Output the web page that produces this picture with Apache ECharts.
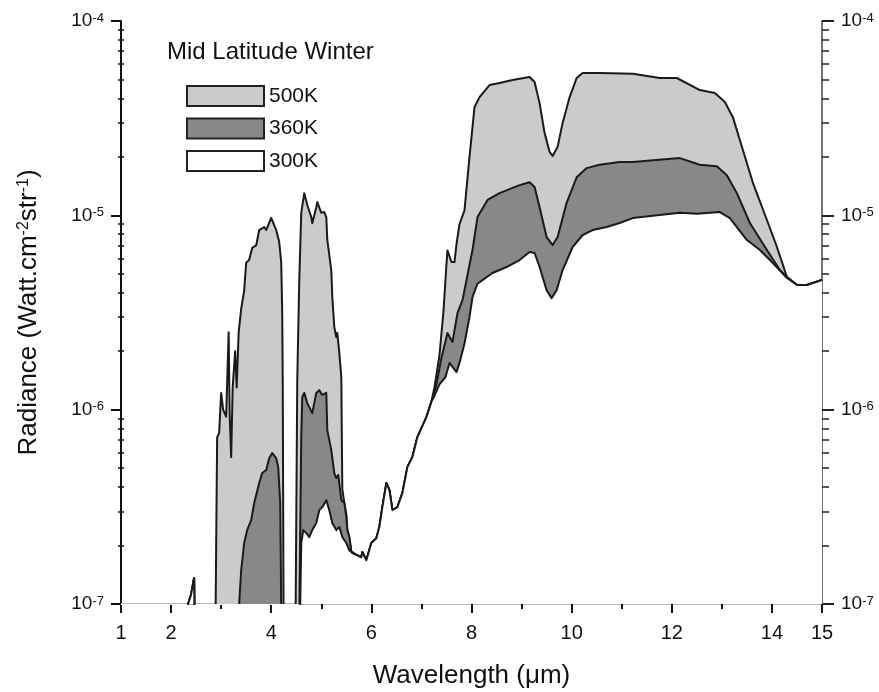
<!DOCTYPE html>
<html><head><meta charset="utf-8">
<script src="https://cdn.jsdelivr.net/npm/echarts@6/dist/echarts.min.js"></script>
<style>html,body{margin:0;padding:0;background:#fff}#c{width:879px;height:692px}</style>
</head><body><div id="c"></div>
<script>
// Wavelength (um) and radiance (W cm^-2 sr^-1); 5e-8 = below the plotted range
const wl500 = [1.0,2.30,2.34,2.40,2.46,2.48,2.88,2.92,2.96,3.00,3.04,3.10,3.15,3.17,3.20,3.23,3.28,3.31,3.35,3.40,3.46,3.50,3.56,3.62,3.70,3.76,3.86,3.90,4.00,4.10,4.16,4.20,4.22,4.23,4.25,
  4.48,4.52,4.56,4.60,4.66,4.72,4.80,4.82,4.90,4.92,5.00,5.06,5.10,5.12,5.20,5.22,5.26,5.30,5.32,5.36,5.40,5.42,5.46,5.50,5.52,5.56,5.60,
  5.62,5.70,5.80,5.82,5.90,6.00,6.10,6.16,6.22,6.30,6.36,6.42,6.52,6.62,6.72,6.82,6.92,7.10,7.20,
  7.26,7.36,7.44,7.50,7.52,7.60,7.66,7.70,7.76,7.86,7.96,8.06,8.16,8.36,8.56,8.82,9.16,9.26,9.36,9.46,9.56,9.62,9.72,9.82,9.96,10.10,10.22,10.56,11.22,11.76,12.10,12.56,12.86,13.06,13.22,13.42,13.62,13.90,14.10,14.30,14.50,14.70,15.0];
const rad500 = [5e-8,5e-8,1.0e-7,1.12e-7,1.36e-7,5e-8,5e-8,7.2e-7,7.6e-7,1.22e-6,1.0e-6,9.2e-7,2.5e-6,9.5e-7,5.7e-7,1.3e-6,2.0e-6,1.3e-6,2.5e-6,3.3e-6,4.1e-6,5.7e-6,5.9e-6,6.8e-6,7.0e-6,8.4e-6,8.7e-6,8.4e-6,9.7e-6,8.4e-6,7.3e-6,5.7e-6,3.1e-6,1.4e-6,5e-8,
  5e-8,1.4e-6,4.6e-6,1.03e-5,1.30e-5,1.13e-5,9.8e-6,9.1e-6,1.10e-5,1.17e-5,1.03e-5,1.04e-5,9.8e-6,7.5e-6,5.2e-6,3.8e-6,2.66e-6,2.36e-6,2.48e-6,1.96e-6,1.47e-6,3.9e-7,3.3e-7,2.9e-7,2.4e-7,2.2e-7,1.86e-7,
  1.83e-7,1.79e-7,1.74e-7,1.85e-7,1.68e-7,2.06e-7,2.18e-7,2.49e-7,3.15e-7,4.19e-7,3.86e-7,3.04e-7,3.15e-7,3.72e-7,5.06e-7,5.70e-7,7.23e-7,9.16e-7,1.10e-6,
  1.3e-6,1.9e-6,3.2e-6,5.6e-6,6.6e-6,5.75e-6,5.75e-6,7.1e-6,9.0e-6,1.06e-5,2.0e-5,3.6e-5,4.06e-5,4.68e-5,4.80e-5,4.97e-5,5.15e-5,4.85e-5,3.78e-5,2.65e-5,2.12e-5,2.02e-5,2.25e-5,2.99e-5,4.06e-5,5.09e-5,5.40e-5,5.40e-5,5.35e-5,5.09e-5,5.09e-5,4.41e-5,4.26e-5,3.83e-5,3.20e-5,2.17e-5,1.47e-5,9.46e-6,6.87e-6,4.81e-6,4.38e-6,4.38e-6,4.65e-6];

const wl360 = [1.0,2.30,2.34,2.40,2.46,2.48,3.34,3.36,3.40,3.46,3.52,3.60,3.66,3.76,3.82,3.90,3.96,4.02,4.10,4.14,4.18,4.21,
  4.55,4.60,4.62,4.66,4.72,4.82,4.90,4.96,5.02,5.10,5.12,5.20,5.26,5.30,5.34,5.40,5.46,5.50,5.52,5.56,5.60,
  5.62,5.70,5.80,5.82,5.90,6.00,6.10,6.16,6.22,6.30,6.36,6.42,6.52,6.62,6.72,6.82,6.92,7.10,7.20,
  7.30,7.40,7.52,7.62,7.72,7.82,8.02,8.12,8.32,8.56,8.96,9.16,9.26,9.36,9.50,9.62,9.72,9.90,10.10,10.30,10.56,10.96,11.22,12.16,12.56,12.90,13.10,13.30,13.56,13.90,14.16,14.30,14.50,14.70,15.0];
const rad360 = [5e-8,5e-8,1.0e-7,1.12e-7,1.36e-7,5e-8,5e-8,1.0e-7,1.49e-7,2.06e-7,2.40e-7,2.70e-7,3.31e-7,4.19e-7,4.72e-7,4.89e-7,5.63e-7,5.98e-7,5.63e-7,5.06e-7,3.31e-7,5e-8,
  5e-8,7.2e-7,1.16e-6,1.22e-6,1.08e-6,9.6e-7,1.22e-6,1.26e-6,1.19e-6,1.22e-6,7.85e-7,6.19e-7,4.72e-7,4.45e-7,4.61e-7,3.42e-7,3.31e-7,2.80e-7,2.40e-7,2.21e-7,1.86e-7,
  1.83e-7,1.79e-7,1.74e-7,1.85e-7,1.68e-7,2.06e-7,2.18e-7,2.49e-7,3.15e-7,4.19e-7,3.86e-7,3.04e-7,3.15e-7,3.72e-7,5.06e-7,5.70e-7,7.23e-7,9.16e-7,1.10e-6,
  1.35e-6,1.85e-6,2.48e-6,2.23e-6,3.14e-6,3.66e-6,6.63e-6,9.80e-6,1.20e-5,1.30e-5,1.43e-5,1.48e-5,1.40e-5,1.10e-5,7.73e-6,7.03e-6,7.73e-6,1.16e-5,1.57e-5,1.75e-5,1.82e-5,1.88e-5,1.88e-5,1.97e-5,1.82e-5,1.79e-5,1.61e-5,1.30e-5,9.13e-6,6.63e-6,5.23e-6,4.81e-6,4.38e-6,4.38e-6,4.65e-6];

const wl300 = [1.0,2.30,2.34,2.40,2.46,2.48,
  4.56,4.60,4.64,4.70,4.76,4.82,4.90,4.96,5.02,5.10,5.16,5.22,5.30,5.36,5.42,5.50,5.56,
  5.62,5.70,5.80,5.82,5.90,6.00,6.10,6.16,6.22,6.30,6.36,6.42,6.52,6.62,6.72,6.82,6.92,7.10,7.20,
  7.26,7.36,7.48,7.56,7.70,7.76,7.86,7.96,8.02,8.12,8.42,8.70,8.96,9.16,9.26,9.36,9.50,9.60,9.70,9.82,10.02,10.22,10.42,10.70,10.96,11.22,12.16,12.50,12.96,13.16,13.50,13.76,14.02,14.30,14.50,14.70,15.0];
const rad300 = [5e-8,5e-8,1.0e-7,1.12e-7,1.36e-7,5e-8,
  5e-8,2.06e-7,2.40e-7,2.32e-7,2.21e-7,2.40e-7,2.61e-7,3.04e-7,3.15e-7,3.42e-7,3.04e-7,2.61e-7,2.40e-7,2.49e-7,2.21e-7,2.06e-7,1.89e-7,
  1.83e-7,1.79e-7,1.74e-7,1.85e-7,1.68e-7,2.06e-7,2.18e-7,2.49e-7,3.15e-7,4.19e-7,3.86e-7,3.04e-7,3.15e-7,3.72e-7,5.06e-7,5.70e-7,7.23e-7,9.16e-7,1.10e-6,
  1.18e-6,1.35e-6,1.47e-6,1.74e-6,1.56e-6,1.74e-6,2.19e-6,3.00e-6,3.80e-6,4.45e-6,5.05e-6,5.42e-6,5.89e-6,6.47e-6,6.40e-6,5.42e-6,4.12e-6,3.75e-6,4.12e-6,5.23e-6,6.87e-6,7.92e-6,8.40e-6,8.71e-6,9.13e-6,9.68e-6,1.03e-5,1.02e-5,1.04e-5,9.68e-6,7.46e-6,6.63e-6,5.68e-6,4.76e-6,4.38e-6,4.38e-6,4.65e-6];

const seriesNames = ['500K','360K','300K'];
const xMajorTicks = [1,2,4,6,8,10,12,14,15];
const xMinorTicks = [3,5,7,9,11,13];
const yDecades = [-7,-6,-5,-4];   // tick labels 10^n
const yMinorTicks = [];
for (let n = -7; n < -4; n++) for (let k = 2; k <= 9; k++) yMinorTicks.push(Math.log10(k) + n);

function toLog(wl, rad) { return wl.map((w, i) => [w, Math.log10(rad[i])]); }

const FONT = 'Liberation Sans, Arial, sans-serif';
const chart = echarts.init(document.getElementById('c'), null, {renderer: 'canvas'});
const yLabelFmt = v => '{b|10}{s|' + Math.round(v) + '}';
const yRich = {b: {fontSize: 19, fontFamily: FONT, color: '#111'}, s: {fontSize: 13, fontFamily: FONT, color: '#111', verticalAlign: 'top', lineHeight: 12}};
const yBase = {type: 'value', min: yDecades[0], max: yDecades[yDecades.length - 1], interval: 1, splitLine: {show: false}};

const fills = ['#cbcbcb', '#888888', '#ffffff'];
const data = [toLog(wl500, rad500), toLog(wl360, rad360), toLog(wl300, rad300)];

chart.setOption({
  animation: false,
  backgroundColor: '#fff',
  title: {text: 'Mid Latitude Winter', left: 167, top: 40, padding: 0,
    textStyle: {fontSize: 24, fontWeight: 'normal', color: '#111', fontFamily: FONT}},
  legend: {
    orient: 'vertical', left: 181, top: 80, itemWidth: 77, itemHeight: 20, itemGap: 10.5,
    selectedMode: false, icon: 'rect',
    textStyle: {fontSize: 21, color: '#111', fontFamily: FONT, lineHeight: 20},
    data: seriesNames.map((n, i) => ({name: n, icon: 'rect', itemStyle: {color: fills[i], borderColor: '#222', borderWidth: 2}}))
  },
  grid: {left: 121, right: 57, top: 21, bottom: 88, containLabel: false, outerBoundsMode: 'none'},
  xAxis: [
    {type: 'value', min: 1, max: 15, interval: 1, position: 'bottom',
     axisLine: {onZero: false, lineStyle: {color: '#b8b8b8', width: 2}},
     axisTick: {customValues: xMajorTicks, length: 9, lineStyle: {color: '#111', width: 2}},
     axisLabel: {customValues: xMajorTicks, margin: 19, fontSize: 20, color: '#111', fontFamily: FONT},
     splitLine: {show: false},
     name: 'Wavelength (μm)', nameLocation: 'middle', nameGap: 59,
     nameTextStyle: {fontSize: 26, color: '#111', fontFamily: FONT}},
    {type: 'value', min: 1, max: 15, interval: 1, position: 'bottom',
     axisLine: {show: false, onZero: false},
     axisTick: {customValues: xMinorTicks, length: 5, lineStyle: {color: '#111', width: 2}},
     axisLabel: {show: false}, splitLine: {show: false}}
  ],
  yAxis: [
    Object.assign({}, yBase, {position: 'left',
     axisLine: {show: true, onZero: false, lineStyle: {color: '#111', width: 2}},
     axisTick: {length: 10, lineStyle: {color: '#111', width: 2}},
     axisLabel: {margin: 17, formatter: yLabelFmt, rich: yRich},
     name: 'Radiance (Watt.cm{s|-2}str{s|-1})', nameLocation: 'middle', nameGap: 79, nameRotate: 90,
     nameTextStyle: {fontSize: 26, color: '#111', fontFamily: FONT,
       rich: {s: {fontSize: 16, color: '#111', fontFamily: FONT, verticalAlign: 'top', lineHeight: 15}}}}),
    Object.assign({}, yBase, {position: 'left',
     axisLine: {show: false, onZero: false},
     axisTick: {customValues: yMinorTicks, inside: true, length: 3, lineStyle: {color: '#111', width: 1.5}},
     axisLabel: {show: false}}),
    Object.assign({}, yBase, {position: 'left',
     axisLine: {show: false, onZero: false},
     axisTick: {customValues: yMinorTicks, length: 3, lineStyle: {color: '#111', width: 1.5}},
     axisLabel: {show: false}}),
    Object.assign({}, yBase, {position: 'right',
     axisLine: {show: true, onZero: false, lineStyle: {color: '#444', width: 1.5}},
     axisTick: {length: 12, lineStyle: {color: '#222', width: 2}},
     axisLabel: {margin: 19, formatter: yLabelFmt, rich: yRich}}),
    Object.assign({}, yBase, {position: 'right',
     axisLine: {show: false, onZero: false},
     axisTick: {customValues: yMinorTicks, length: 7, lineStyle: {color: '#222', width: 1.5}},
     axisLabel: {show: false}})
  ],
  series: seriesNames.map((n, i) => ({
    name: n, type: 'line', data: data[i], xAxisIndex: 0, yAxisIndex: 0,
    symbol: 'none', showSymbol: false, clip: true, z: 2 + i,
    itemStyle: {color: fills[i]},
    lineStyle: {color: '#1a1a1a', width: 2, join: 'round'},
    areaStyle: {color: fills[i], opacity: 1, origin: 'start'}
  }))
});
</script></body></html>
